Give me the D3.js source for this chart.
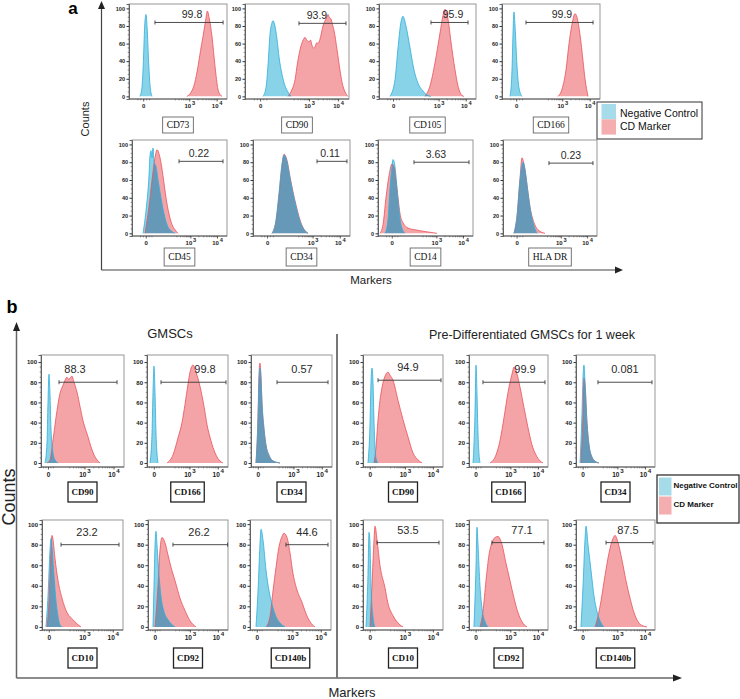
<!DOCTYPE html>
<html><head><meta charset="utf-8">
<script src="https://cdn.jsdelivr.net/npm/d3@7"></script>
<style>body{margin:0;background:#fff;} svg{display:block;}</style>
</head><body>
<svg id="c" width="740" height="699"></svg>
<script>
// ================= DATA =================
// x values: position along the biexponential display axis (0..100 = axis extent); y values: % of max count
const yTicks = [0, 20, 40, 60, 80, 100];
const xTickBase = ["0", "10", "10"];
const xTickExp  = ["", "3", "4"];
const legendLabels = ["Negative Control", "CD Marker"];

// ---- Panel a ----
const markersA = ["CD73", "CD90", "CD105", "CD166", "CD45", "CD34", "CD14", "HLA DR"];
const percentA = ["99.8", "93.9", "95.9", "99.9", "0.22", "0.11", "3.63", "0.23"];
const gatesA = [[26.5, 96, 84], [51.9, 97.1, 83], [53.6, 91.8, 84], [24.5, 92.9, 84],
                [49.5, 95.8, 81], [66, 96.9, 81], [37.9, 95.8, 80], [48.9, 95.7, 79]];

const negA_CD73 = [[11,0],[13,8],[14.5,35],[16,80],[17.3,93],[18.5,78],[20,40],[21.5,12],[23.5,0]];
const posA_CD73 = [[59,0],[63,4],[67,15],[70.4,34],[73,52],[75.5,68],[78,85],[80,97],[82,88],[84.7,68],[87.8,34],[90.8,8],[93,2],[95,0]];
const negA_CD90 = [[17.3,0],[20.2,10],[22.1,35],[24,70],[26,84],[26.9,86],[28.8,80],[30.8,65],[32.7,45],[35.6,25],[38.5,12],[41.3,5],[44.2,0]];
const posA_CD90 = [[41.3,0],[44.5,6],[48.1,19],[50.5,38],[52.9,53],[55.5,63],[57.7,67],[59.5,64],[61.5,62],[63,64],[64.4,58],[66,55],[67.3,56],[69,61],[70.2,60],[72.1,65],[73.5,72],[75,80],[76.5,85],[77.9,88],[79.8,93],[81,90],[82.7,88],[84,82],[85.6,75],[88.5,53],[91.3,30],[93.3,16],[96.2,5],[99,0]];
const negA_CD105 = [[11.3,0],[16.5,19],[19.6,55],[22.7,85],[24.7,91],[27.8,80],[32,55],[36.1,30],[40.2,15],[45.4,6],[50.5,1],[53.6,0]];
const posA_CD105 = [[47.4,0],[52.6,12],[57.7,38],[62.9,72],[66,92],[68,99],[71.1,88],[74.2,62],[78.4,30],[81.4,12],[85.6,1],[87.6,0]];
const negA_CD166 = [[8.2,0],[10.2,30],[11.2,70],[12.2,96],[13.3,80],[15.3,35],[17.3,10],[20.4,0]];
const posA_CD166 = [[57.1,0],[61.2,8],[65.3,30],[68.4,60],[71.4,82],[74.5,94],[76.5,90],[79.6,70],[82.7,40],[84.7,20],[87.8,0]];
const negA_CD45 = [[11.6,0],[14.7,25],[17.9,65],[19,88],[20,93],[21,85],[22.1,96],[23.2,80],[25.3,75],[27.4,60],[30.5,40],[33.7,22],[36.8,10],[42.1,2],[45.3,0]];
const posA_CD45 = [[13.7,0],[17.9,30],[21.1,60],[24.2,85],[26.3,94],[29.5,85],[32.6,65],[35.8,40],[38.9,22],[42.1,10],[45.3,4],[48.4,0]];
const negA_CD34 = [[19.6,0],[23.7,15],[26.8,45],[29.9,78],[32,88],[35.1,80],[38.1,62],[41.2,45],[44.3,30],[47.4,17],[50.5,8],[53.6,3],[56.7,0]];
const posA_CD34 = [[19.6,0],[23.7,13],[26.8,42],[29.9,76],[32,89],[35.1,82],[38.1,64],[41.2,47],[44.3,32],[47.4,19],[50.5,9],[53.6,3],[56.7,0]];
const negA_CD14 = [[7.4,0],[10.5,15],[12.6,50],[14.7,75],[15.8,83],[17.9,75],[20,50],[22.1,25],[24.2,10],[28.4,0]];
const posA_CD14 = [[2.1,0],[5.3,10],[8.4,40],[11.6,65],[14.7,78],[16.8,75],[18.9,60],[21.1,40],[23.2,22],[26.3,12],[31.6,6],[38.9,4],[49.5,2],[62.1,0]];
const negA_HLADR = [[11.7,0],[14.9,20],[18.1,60],[21.3,80],[23.4,72],[26.6,45],[29.8,22],[33,8],[36.2,0]];
const posA_HLADR = [[11.7,0],[14.9,18],[18.1,62],[20.2,85],[22.3,78],[25.5,55],[28.7,30],[33,12],[37.2,4],[44.7,0]];

// ---- Panel b ----
const groupsB = ["GMSCs", "Pre-Differentiated GMSCs for 1 week"];
const markersB = ["CD90", "CD166", "CD34", "CD10", "CD92", "CD140b"];
const percentB1 = ["88.3", "99.8", "0.57", "23.2", "26.2", "44.6"];
const percentB2 = ["94.9", "99.9", "0.081", "53.5", "77.1", "87.5"];
const gatesB1 = [[21.7, 91.6, 80], [17.3, 97.5, 80], [32.1, 95.1, 80], [23.5, 95.1, 80], [31.2, 99.5, 80], [44.4, 96.3, 80]];
const gatesB2 = [[18.8, 97.5, 82], [17.7, 96.2, 80], [27.8, 96.2, 80], [17.5, 95, 82], [29.1, 94.9, 82], [38, 97.5, 82]];

const negB1_CD90 = [[4.8,0],[7.2,20],[8.4,60],[9.6,88],[10.8,70],[12,35],[14.5,10],[16.9,3],[20.5,0]];
const posB1_CD90 = [[7.2,0],[10.8,3],[14.5,23],[19.3,52],[22.9,69],[26.5,77],[29,82],[31.3,85],[33,83],[34.9,84],[37.3,86],[39.8,80],[43.4,70],[47,56],[50.6,42],[54.2,32],[56.6,26],[60.2,16],[63.9,8],[67.5,3],[71.1,0]];
const negB1_CD166 = [[3.7,0],[6.2,30],[7.4,70],[8.6,96],[9.9,70],[11.1,30],[13.6,0]];
const posB1_CD166 = [[24.7,0],[32.1,8],[38.3,25],[43.2,40],[46.9,58],[50.6,78],[53.1,90],[56.8,97],[60.5,90],[65.4,76],[70.4,56],[74.1,38],[79,22],[84,10],[88.9,3],[93.8,0]];
const negB1_CD34 = [[6.2,0],[8.6,40],[9.9,80],[11.1,94],[12.3,85],[13.6,60],[16,35],[18.5,18],[22.2,8],[27.2,2],[35.8,0]];
const posB1_CD34 = [[6.2,0],[8.6,45],[9.9,88],[11.1,99],[12.3,85],[13.6,58],[16,33],[18.5,17],[22.2,7],[27.2,2],[35.8,0]];
const negB1_CD10 = [[4.9,0],[7.4,30],[9.9,75],[11.1,86],[12.3,78],[14.8,50],[17.3,25],[19.8,10],[22.2,2],[24.7,0]];
const posB1_CD10 = [[6.2,0],[8.6,25],[9.9,50],[11.1,75],[12.3,89],[13.6,85],[16,67],[19.8,45],[24.7,28],[30.9,14],[38.3,7],[43.2,3],[48.1,0]];
const negB1_CD92 = [[6.2,0],[7.5,40],[8.8,80],[10,93],[11.2,80],[13.8,50],[16.2,30],[20,15],[25,7],[33.8,0]];
const posB1_CD92 = [[8.8,0],[12.5,40],[15,75],[17.5,87],[21.2,82],[25,70],[28.8,58],[33.8,45],[40,28],[46.2,16],[52.5,6],[60,0]];
const negB1_CD140b = [[7.4,0],[9.9,35],[12.3,80],[13.6,95],[16,85],[19.8,55],[23.5,35],[27.2,22],[32.1,10],[37,4],[43.2,0]];
const posB1_CD140b = [[19.8,0],[24.7,10],[28.4,35],[32.1,58],[35.8,78],[39.5,88],[42,91],[45.7,87],[49.4,72],[53.1,52],[58,36],[64.2,24],[69.1,13],[74.1,5],[80.2,0]];

const negB2_CD90 = [[6.2,0],[8.8,40],[10,80],[11.2,94],[12.5,80],[13.8,40],[16.2,5],[18.8,0]];
const posB2_CD90 = [[13.8,0],[16.2,15],[18.8,43],[21.2,62],[23.8,75],[27.5,86],[31.2,90],[33.8,87],[37.5,82],[43.8,62],[50,43],[56.2,26],[62.5,10],[68.8,3],[73.8,0]];
const negB2_CD166 = [[5.1,0],[7.6,50],[8.9,97],[10.1,70],[11.4,30],[13.9,0]];
const posB2_CD166 = [[26.6,0],[34.2,8],[39.2,22],[44.3,45],[49.4,70],[54.4,88],[57,95],[60.8,88],[64.6,75],[69.6,55],[74.7,35],[79.7,18],[84.8,8],[89.9,2],[93.7,0]];
const negB2_CD34 = [[5.1,0],[7.6,50],[8.9,85],[10.1,97],[11.4,80],[13.9,40],[16.5,18],[20.3,6],[25.3,1],[29.1,0]];
const posB2_CD34 = [[6.3,0],[8.9,50],[10.1,84],[11.4,78],[13.9,40],[16.5,17],[20.3,5],[25.3,1],[29.1,0]];
const negB2_CD10 = [[3.8,0],[6.2,50],[7.5,92],[8.8,80],[10,40],[12.5,10],[15,0]];
const posB2_CD10 = [[8.8,0],[11.2,40],[13.8,85],[15,98],[17.5,85],[21.2,60],[27.5,38],[31.2,23],[37.5,11],[46.2,2],[50,0]];
const negB2_CD92 = [[6.3,0],[8.9,60],[10.1,97],[11.4,80],[13.9,40],[16.5,18],[20.3,5],[24.1,0]];
const posB2_CD92 = [[13.9,0],[17.7,15],[21.5,45],[25.3,70],[29.1,82],[32.9,87],[36.7,88],[41.8,80],[46.8,62],[51.9,45],[57,28],[62,14],[67.1,5],[73.4,0]];
const negB2_CD140b = [[6.3,0],[8.9,40],[11.4,85],[12.7,98],[15.2,80],[19,55],[22.8,30],[26.6,15],[30.4,6],[35.4,0]];
const posB2_CD140b = [[24.1,0],[27.8,10],[31.6,25],[36.7,50],[41.8,72],[46.8,86],[49.4,89],[53.2,82],[58.2,65],[63.3,45],[68.4,28],[73.4,14],[78.5,5],[84.8,1],[89.9,0]];

// ================= LAYOUT / STYLE =================
const C = {
  negFill: "#88d3e8", negLine: "#2eaddb",
  posFill: "#f4a4a6", posLine: "#e9505a",
  overlap: "#6699b8", frame: "#8c8c8c",
  legNeg: "#a6dcea", legPos: "#f5aeb0"
};
const SANS = "'Liberation Sans', Arial, Helvetica, sans-serif";
const SERIF = "'Liberation Serif', 'Times New Roman', serif";

const svg = d3.select("#c");
let uid = 0;

function plot(o) {
  const id = "p" + (uid++);
  const x = d3.scaleLinear().domain([0, 100]).range([o.x0, o.x0 + o.w]);
  const y = d3.scaleLinear().domain(o.yDom).range([o.y0 + o.h, o.y0]);
  const g = svg.append("g");
  const area = d3.area().x(d => x(d[0])).y0(y(0)).y1(d => y(d[1])).curve(d3.curveMonotoneX);
  const line = d3.line().x(d => x(d[0])).y(d => y(d[1])).curve(d3.curveMonotoneX);
  g.append("defs").append("clipPath").attr("id", id + "c")
    .append("path").attr("d", area(o.pos));
  g.append("path").attr("d", area(o.pos)).attr("fill", C.posFill);
  g.append("path").attr("d", area(o.neg)).attr("fill", C.negFill);
  g.append("path").attr("d", area(o.neg)).attr("fill", C.overlap).attr("clip-path", `url(#${id}c)`);
  g.append("path").attr("d", line(o.pos)).attr("fill", "none").attr("stroke", C.posLine).attr("stroke-width", 0.8);
  g.append("path").attr("d", line(o.neg)).attr("fill", "none").attr("stroke", C.negLine).attr("stroke-width", 0.8);

  // frame
  g.append("rect").attr("x", o.x0).attr("y", o.y0).attr("width", o.w).attr("height", o.h)
    .attr("fill", "none").attr("stroke", C.frame).attr("stroke-width", 0.9);

  // y axis
  const ya = g.append("g").attr("transform", `translate(${o.x0},0)`)
    .call(d3.axisLeft(y).tickValues(yTicks).tickSize(2.5).tickPadding(1.5));
  ya.select(".domain").attr("stroke", "#555").attr("stroke-width", 0.9);
  ya.selectAll(".tick line").attr("stroke", "#333");
  ya.selectAll(".tick text").attr("font-family", SANS).attr("font-size", o.yFont)
    .attr("font-weight", "bold").attr("fill", "#222");
  const yMinor = d3.range(0, 101, 5).filter(v => v % 20 !== 0);
  g.selectAll(null).data(yMinor).enter().append("line")
    .attr("x1", o.x0 - 1.3).attr("x2", o.x0).attr("y1", d => y(d)).attr("y2", d => y(d))
    .attr("stroke", "#444").attr("stroke-width", 0.6);

  // x axis
  const yb = o.y0 + o.h;
  g.append("line").attr("x1", o.x0).attr("x2", o.x0 + o.w).attr("y1", yb).attr("y2", yb)
    .attr("stroke", "#555").attr("stroke-width", 0.9);
  const t = o.ticks;
  const dec = t[2] - t[1];
  const minors = [];
  for (let k = 2; k <= 9; k++) {
    minors.push(t[1] + Math.log10(k) * dec);
    minors.push(t[1] - (1 - Math.log10(k)) * dec * 0.75);
  }
  [-6, -3, 3, 6].forEach(v => minors.push(t[0] + v));
  g.selectAll(null).data(minors.filter(v => v > 0 && v < 100)).enter().append("line")
    .attr("x1", d => x(d)).attr("x2", d => x(d)).attr("y1", yb).attr("y2", yb + 1.3)
    .attr("stroke", "#444").attr("stroke-width", 0.6);
  t.forEach((v, i) => {
    g.append("line").attr("x1", x(v)).attr("x2", x(v)).attr("y1", yb).attr("y2", yb + 2.5)
      .attr("stroke", "#333").attr("stroke-width", 0.8);
    const tx = g.append("text").attr("x", x(v)).attr("y", yb + o.xLabDy)
      .attr("text-anchor", "middle").attr("font-family", SANS).attr("font-size", o.xFont)
      .attr("font-weight", "bold").attr("fill", "#222").text(xTickBase[i]);
    if (xTickExp[i]) {
      tx.append("tspan").attr("dx", 0.8).attr("dy", -o.xFont * 0.55)
        .attr("font-size", o.xFont * 0.95).text(xTickExp[i]);
    }
  });

  // gate
  const gy = y(o.gate[2]);
  const gx0 = x(o.gate[0]), gx1 = x(o.gate[1]);
  g.append("line").attr("x1", gx0).attr("x2", gx1).attr("y1", gy).attr("y2", gy)
    .attr("stroke", "#3a3a3a").attr("stroke-width", 0.9);
  [gx0, gx1].forEach(xx => g.append("line").attr("x1", xx).attr("x2", xx)
    .attr("y1", gy - 2).attr("y2", gy + 2).attr("stroke", "#3a3a3a").attr("stroke-width", 0.9));
  g.append("text").attr("x", x(o.pctX)).attr("y", gy - o.pctDy).attr("text-anchor", "middle")
    .attr("font-family", o.pctFamily).attr("font-size", o.pctFont).attr("fill", "#2a2a2a")
    .text(o.pct);

  // marker name box
  const cx = o.x0 + o.w / 2;
  const lr = g.append("rect").attr("y", o.labTop).attr("height", o.labH)
    .attr("fill", "#fff").attr("stroke", o.labStroke).attr("stroke-width", o.labBold ? 1.3 : 0.9);
  const lt = g.append("text").attr("x", cx).attr("y", o.labTop + o.labH / 2 + o.labFont * 0.35)
    .attr("text-anchor", "middle").attr("font-family", SERIF).attr("font-size", o.labFont)
    .attr("font-weight", o.labBold ? "bold" : "normal").attr("fill", "#111").text(o.marker);
  const tw = lt.node().getComputedTextLength();
  lr.attr("x", cx - tw / 2 - o.labPad).attr("width", tw + 2 * o.labPad);
}

// ---------- Panel a ----------
const negA = [negA_CD73, negA_CD90, negA_CD105, negA_CD166, negA_CD45, negA_CD34, negA_CD14, negA_HLADR];
const posA = [posA_CD73, posA_CD90, posA_CD105, posA_CD166, posA_CD45, posA_CD34, posA_CD14, posA_HLADR];
const layoutA = {
  lefts: [129, 245, 379, 502, 132, 253, 378, 503],
  widths: [98, 104, 97, 98, 95, 97, 95, 94],
  tops: [4, 140], heights: [95, 96],
  labTops: [117, 248], labHs: [16, 18],
  pctX: [64.3, 69.2, 76.3, 61.2, 70.5, 79.4, 61, 72.3]
};
markersA.forEach((m, i) => {
  const r = i < 4 ? 0 : 1;
  plot({
    x0: layoutA.lefts[i], w: layoutA.widths[i], y0: layoutA.tops[r], h: layoutA.heights[r],
    yDom: [-3, 105], ticks: [15, 62, 90], neg: negA[i], pos: posA[i],
    gate: gatesA[i], pct: percentA[i], pctX: layoutA.pctX[i], pctDy: 4.5, pctFont: 10.5,
    pctFamily: SANS, marker: m, labTop: layoutA.labTops[r], labH: layoutA.labHs[r],
    labFont: 9.5, labBold: false, labPad: 4, labStroke: "#666",
    yFont: 5.5, xFont: 6, xLabDy: 9
  });
});

// Panel a axes
const axA = svg.append("g").attr("stroke", "#444").attr("stroke-width", 1.2);
axA.append("line").attr("x1", 101.5).attr("x2", 101.5).attr("y1", 270).attr("y2", 8);
axA.append("line").attr("x1", 101.5).attr("x2", 616).attr("y1", 270).attr("y2", 270);
svg.append("path").attr("d", "M101.5,1 L98,9 L105,9 Z").attr("fill", "#222");
svg.append("path").attr("d", "M623,270 L615,266.5 L615,273.5 Z").attr("fill", "#222");
svg.append("text").attr("x", 73).attr("y", 14).attr("font-family", SANS).attr("font-weight", "bold")
  .attr("font-size", 17).attr("text-anchor", "middle").text("a");
svg.append("text").attr("transform", "translate(89,119) rotate(-90)").attr("text-anchor", "middle")
  .attr("font-family", SANS).attr("font-size", 11).attr("fill", "#222").text("Counts");
svg.append("text").attr("x", 371).attr("y", 284).attr("text-anchor", "middle")
  .attr("font-family", SANS).attr("font-size", 11.5).attr("fill", "#222").text("Markers");

// Legend a
const lgA = svg.append("g");
lgA.append("rect").attr("x", 597).attr("y", 102).attr("width", 105).attr("height", 37)
  .attr("fill", "#fff").attr("stroke", "#333").attr("stroke-width", 1);
[C.legNeg, C.legPos].forEach((c, i) => {
  lgA.append("rect").attr("x", 601.5).attr("y", 104 + i * 15.3).attr("width", 14.5).attr("height", 15.3).attr("fill", c);
  lgA.append("text").attr("x", 620).attr("y", 117 + i * 12.5).attr("font-family", SANS)
    .attr("font-size", 10.5).attr("fill", "#111").text(legendLabels[i]);
});

// ---------- Panel b ----------
const negB = [negB1_CD90, negB1_CD166, negB1_CD34, negB1_CD10, negB1_CD92, negB1_CD140b,
              negB2_CD90, negB2_CD166, negB2_CD34, negB2_CD10, negB2_CD92, negB2_CD140b];
const posB = [posB1_CD90, posB1_CD166, posB1_CD34, posB1_CD10, posB1_CD92, posB1_CD140b,
              posB2_CD90, posB2_CD166, posB2_CD34, posB2_CD10, posB2_CD92, posB2_CD140b];
const gatesB = gatesB1.concat(gatesB2);
const percentB = percentB1.concat(percentB2);
const layoutB = {
  lefts1: [41, 147, 251, 42, 148, 250], lefts2: [363, 469, 576, 363, 469, 576],
  widths1: [83, 81, 81, 81, 80, 81], widths2: [80, 79, 79, 80, 79, 79],
  tops: [355, 520], heights: [112, 110], yDoms: [[-4, 107], [-3, 104]],
  labTops: [482, 648], labH: 20,
  pctX: [41, 71.6, 63, 55.6, 63.8, 70.4, 56.2, 70.9, 62, 56.2, 67.1, 65.8]
};
for (let k = 0; k < 12; k++) {
  const grp = k < 6 ? 0 : 1, j = k % 6, r = j < 3 ? 0 : 1;
  plot({
    x0: grp ? layoutB.lefts2[j] : layoutB.lefts1[j],
    w: grp ? layoutB.widths2[j] : layoutB.widths1[j],
    y0: layoutB.tops[r], h: layoutB.heights[r], yDom: layoutB.yDoms[r],
    ticks: [9, 53, 88], neg: negB[k], pos: posB[k], gate: gatesB[k], pct: percentB[k],
    pctX: layoutB.pctX[k], pctDy: 9, pctFont: 11,
    pctFamily: "'Liberation Sans Narrow', 'Arial Narrow', " + SANS,
    marker: markersB[j], labTop: layoutB.labTops[r], labH: layoutB.labH, labFont: 9,
    labBold: true, labPad: 3.5, labStroke: "#222", yFont: 6, xFont: 6.5, xLabDy: 10
  });
}

// Panel b frame
const fb = svg.append("g").attr("stroke", "#666").attr("stroke-width", 1.5);
fb.append("line").attr("x1", 16.5).attr("x2", 16.5).attr("y1", 678).attr("y2", 330);
fb.append("line").attr("x1", 16.5).attr("x2", 674).attr("y1", 678).attr("y2", 678);
svg.append("line").attr("x1", 337).attr("x2", 337).attr("y1", 334).attr("y2", 678)
  .attr("stroke", "#777").attr("stroke-width", 2);
svg.append("path").attr("d", "M16.5,322 L13,331 L20,331 Z").attr("fill", "#222");
svg.append("path").attr("d", "M682,678 L673,674.5 L673,681.5 Z").attr("fill", "#222");
svg.append("text").attr("x", 12).attr("y", 313).attr("font-family", SANS).attr("font-weight", "bold")
  .attr("font-size", 18).attr("text-anchor", "middle").text("b");
svg.append("text").attr("transform", "translate(15,497) rotate(-90)").attr("text-anchor", "middle")
  .attr("font-family", SANS).attr("font-size", 18).attr("fill", "#222").text("Counts");
svg.append("text").attr("x", 352).attr("y", 697).attr("text-anchor", "middle")
  .attr("font-family", SANS).attr("font-size", 13).attr("fill", "#222").text("Markers");
svg.append("text").attr("x", 170).attr("y", 338).attr("text-anchor", "middle")
  .attr("font-family", SANS).attr("font-size", 13).attr("fill", "#222").text(groupsB[0]);
svg.append("text").attr("x", 532).attr("y", 339).attr("text-anchor", "middle")
  .attr("font-family", SANS).attr("font-size", 12.5).attr("fill", "#222").text(groupsB[1]);

// Legend b
const lgB = svg.append("g");
lgB.append("rect").attr("x", 657).attr("y", 475).attr("width", 82).attr("height", 48)
  .attr("fill", "#fff").attr("stroke", "#333").attr("stroke-width", 1.3);
[C.legNeg, C.legPos].forEach((c, i) => {
  lgB.append("rect").attr("x", 659).attr("y", 477.5 + i * 19).attr("width", 12.5).attr("height", 18).attr("fill", c);
  lgB.append("text").attr("x", 673.5).attr("y", 488 + i * 19).attr("font-family", SANS)
    .attr("font-weight", "bold").attr("font-size", 8).attr("fill", "#111").text(legendLabels[i]);
});
</script>
</body></html>
